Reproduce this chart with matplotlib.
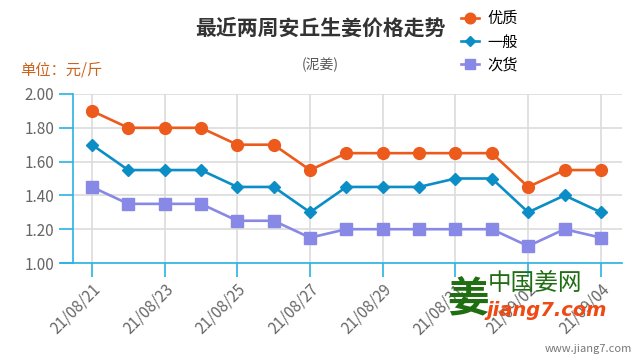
import matplotlib
matplotlib.use("Agg")
import matplotlib.pyplot as plt

plt.rcParams['font.family'] = ['Noto Sans CJK SC', 'DejaVu Sans']

# =========================
# Data
# =========================
dates = ["21/08/21", "21/08/22", "21/08/23", "21/08/24", "21/08/25",
         "21/08/26", "21/08/27", "21/08/28", "21/08/29", "21/08/30",
         "21/08/31", "21/09/01", "21/09/02", "21/09/03", "21/09/04"]
top_grade = [1.90, 1.80, 1.80, 1.80, 1.70, 1.70, 1.55, 1.65, 1.65, 1.65,
             1.65, 1.65, 1.45, 1.55, 1.55]
mid_grade = [1.70, 1.55, 1.55, 1.55, 1.45, 1.45, 1.30, 1.45, 1.45, 1.45,
             1.50, 1.50, 1.30, 1.40, 1.30]
low_grade = [1.45, 1.35, 1.35, 1.35, 1.25, 1.25, 1.15, 1.20, 1.20, 1.20,
             1.20, 1.20, 1.10, 1.20, 1.15]
y_ticks = [1.00, 1.20, 1.40, 1.60, 1.80, 2.00]

ORANGE = "#ec5a1c"
BLUE = "#0b8dc6"
PURPLE = "#8888e6"
AXIS_BLUE = "#29b3e3"

fig = plt.figure(figsize=(6.4, 3.6), dpi=100)
ax = fig.add_axes([73 / 640, 1 - 263 / 360, (622 - 73) / 640, (263 - 94) / 360])

x = list(range(len(dates)))
l1, = ax.plot(x, top_grade, color=ORANGE, lw=1.9, marker="o", ms=8.5, zorder=3)
l2, = ax.plot(x, mid_grade, color=BLUE, lw=1.9, marker="D", ms=6, zorder=3)
l3, = ax.plot(x, low_grade, color=PURPLE, lw=1.9, marker="s", ms=8, zorder=3)

ax.set_xlim(-0.52, 14.58)
ax.set_ylim(1.0, 2.0)

ax.set_yticks(y_ticks)
ax.set_yticklabels([f"{v:.2f}" for v in y_ticks])
ax.set_xticks(x[::2])
ax.set_xticklabels(dates[::2], rotation=45, ha="right", rotation_mode="anchor")

ax.grid(True, color="#dcdcdc", lw=1.2, zorder=0)
for s in ["top", "right"]:
    ax.spines[s].set_visible(False)
for s in ["left", "bottom"]:
    ax.spines[s].set_color(AXIS_BLUE)
    ax.spines[s].set_linewidth(1.2)
ax.tick_params(axis="both", colors=AXIS_BLUE, length=10, width=1.2, labelcolor="#666666",
               labelsize=11)
ax.tick_params(axis="x", pad=3)
# extend x axis a bit to the left like the original
ax.plot([-0.85, -0.52], [1.0, 1.0], color=AXIS_BLUE, lw=1.2, clip_on=False)

# titles
fig.text(320 / 640, 1 - 28 / 360, "最近两周安丘生姜价格走势", ha="center", va="center",
         fontsize=15, fontweight="bold", color="#333333")
fig.text(320 / 640, 1 - 65 / 360, "(泥姜)", ha="center", va="center",
         fontsize=10, color="#555555")
fig.text(20 / 640, 1 - 70 / 360, "单位：元/斤", ha="left", va="center",
         fontsize=11, color="#c8641e")

# legend
fig.legend([l1, l2, l3], ["优质", "一般", "次货"], loc="upper left",
           bbox_to_anchor=(461 / 640, 1 - 10 / 360), frameon=False, fontsize=11,
           borderpad=0, borderaxespad=0, handlelength=1.15, handletextpad=0.55,
           labelspacing=0.42, markerscale=0.9)

# watermark
fig.text(468 / 640, 1 - 300 / 360, "姜", ha="center", va="center", fontsize=30,
         fontweight="bold", color="#1f6e12")
fig.text(488 / 640, 1 - 283 / 360, "中国姜网", ha="left", va="center", fontsize=17,
         color="#1f6e12")
fig.text(486 / 640, 1 - 310 / 360, "jiang7.com", ha="left", va="center", fontsize=14,
         fontweight="bold", style="italic", color="#f04a14", family="DejaVu Sans")
fig.text(632 / 640, 1 - 349 / 360, "www.jiang7.com", ha="right", va="center",
         fontsize=8, color="#777777")

fig.savefig("out.png", dpi=100)
